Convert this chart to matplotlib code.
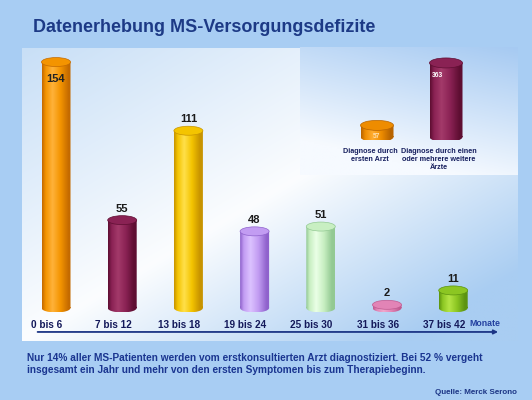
import numpy as np
import matplotlib
matplotlib.use("Agg")
import matplotlib.pyplot as plt
from matplotlib.patches import Ellipse, PathPatch
from matplotlib.path import Path
from matplotlib.colors import LinearSegmentedColormap, to_rgb

plt.rcParams['font.family'] = ['Liberation Sans', 'DejaVu Sans']

# ---------------- data ----------------
title = "Datenerhebung MS-Versorgungsdefizite"
categories = ["0 bis 6", "7 bis 12", "13 bis 18", "19 bis 24", "25 bis 30", "31 bis 36", "37 bis 42"]
values = [154, 55, 111, 48, 51, 2, 11]
axis_unit = "Monate"

inset_labels = ["Diagnose durch\nersten Arzt", "Diagnose durch einen\noder mehrere weitere\nÄrzte"]
inset_values = [57, 363]

footnote = ("Nur 14% aller MS-Patienten werden vom erstkonsultierten Arzt diagnostiziert. Bei 52 % vergeht\n"
            "insgesamt ein Jahr und mehr von den ersten Symptomen bis zum Therapiebeginn.")
source = "Quelle: Merck Serono"

# ---------------- styles ----------------
bar_colors = [  # (dark edge, light, base)
    ("#c46a00", "#ffb23a", "#f49400"),
    ("#5e0e32", "#a33a6a", "#8a2254"),
    ("#c89400", "#ffe04a", "#f4c400"),
    ("#8f62cc", "#dcc2ff", "#c29cf2"),
    ("#93c993", "#eaffe6", "#c8efc2"),
    ("#c05a90", "#f0a8cc", "#e284b6"),
    ("#5c9410", "#b4e444", "#8cc622"),
]
inset_colors = [
    ("#b86400", "#ffac30", "#ee8c00"),
    ("#5e0e32", "#a33a6a", "#8a2254"),
]
DARKBLUE = "#1c3585"
NAVY = "#14195a"
W_PX, H_PX = 532, 400

fig = plt.figure(figsize=(W_PX / 100, H_PX / 100), dpi=100)
fig.patch.set_facecolor("#a8cdf3")

# background decoration axes (pixel coordinates)
bg = fig.add_axes([0, 0, 1, 1])
bg.set_xlim(0, W_PX)
bg.set_ylim(H_PX, 0)
bg.axis("off")
bg.set_zorder(0)

def mix(c1, c2, t):
    c1 = np.array(to_rgb(c1)); c2 = np.array(to_rgb(c2))
    return c1[None, None, :] * (1 - t[..., None]) + c2[None, None, :] * t[..., None]

# main panel gradient
ny, nx = 200, 300
u, v = np.meshgrid(np.linspace(0, 1, nx), np.linspace(0, 1, ny))
d = u + v - 1.0
t = np.where(d < 0, np.clip(-d * 0.6, 0, 1), np.clip(d * 1.25, 0, 1))
t = np.clip(t + 0.04, 0, 1)
img = mix("#ffffff", "#a9cdf2", t)
bg.imshow(img, extent=(22, 518, 341, 48), aspect="auto", zorder=1, interpolation="bilinear")

# inset panel gradient
ny2, nx2 = 100, 150
u2, v2 = np.meshgrid(np.linspace(0, 1, nx2), np.linspace(0, 1, ny2))
t2 = np.clip((1 - v2) * 0.9 + u2 * 0.35 - 0.25, 0, 1)
img2 = mix("#f6faff", "#a6caf2", t2)
bg.imshow(img2, extent=(300, 518, 175, 47), aspect="auto", zorder=2, interpolation="bilinear")
bg.set_xlim(0, W_PX)
bg.set_ylim(H_PX, 0)

# title
bg.text(33, 28, title, fontsize=13, fontweight="bold", color="#1d3a86", va="center", ha="left", zorder=5)
# footnote
bg.text(27, 364, footnote, fontsize=7.3, fontweight="bold", color="#1a3590", va="center", ha="left",
        linespacing=1.2, zorder=5)
bg.text(517, 392, source, fontsize=5.8, fontweight="bold", color=DARKBLUE, va="center", ha="right", zorder=5)


def cylinder(ax, x, h, w, eh, cols, z=3):
    dark, light, base = cols
    cmap = LinearSegmentedColormap.from_list(
        "c", [(0, dark), (0.12, base), (0.35, light), (0.62, base), (0.9, dark), (1, dark)])
    rect = Path([(x - w / 2, 0), (x + w / 2, 0), (x + w / 2, h), (x - w / 2, h), (x - w / 2, 0)],
                [Path.MOVETO, Path.LINETO, Path.LINETO, Path.LINETO, Path.CLOSEPOLY])
    ell = Ellipse((x, 0), w, eh)
    ep = ell.get_patch_transform().transform_path(ell.get_path())
    comp = Path.make_compound_path(rect, ep)
    clip = PathPatch(comp, transform=ax.transData, facecolor="none", edgecolor="none")
    ax.add_patch(clip)
    grad = np.linspace(0, 1, 64)[None, :]
    im = ax.imshow(grad, extent=(x - w / 2, x + w / 2, -eh / 2, h), aspect="auto", cmap=cmap,
                   zorder=z, interpolation="bilinear")
    im.set_clip_path(clip)
    top = Ellipse((x, h), w, eh, facecolor=base, edgecolor=dark, lw=0.5, zorder=z + 1)
    ax.add_patch(top)


# ---------------- main chart ----------------
px_unit = 1.597          # pixels per value unit
base_px = 308            # baseline pixel (from top)
idx_px = 66.2            # pixels per category
x0_px = 56
ax_left_px = x0_px - 0.5 * idx_px
ax_right_px = x0_px + 7.0 * idx_px
ax_top_px, ax_bot_px = 36, 340
ax = fig.add_axes([ax_left_px / W_PX, 1 - ax_bot_px / H_PX,
                   (ax_right_px - ax_left_px) / W_PX, (ax_bot_px - ax_top_px) / H_PX])
ax.set_zorder(3)
ax.patch.set_alpha(0)
ax.axis("off")

bw = 29 / idx_px
eh = 9 / px_unit
xs = np.arange(len(values))
for i, val in enumerate(values):
    cylinder(ax, xs[i], val, bw, eh, bar_colors[i])
    if i == 0:
        ax.annotate(str(val), (xs[i], val), xytext=(0, -12), textcoords="offset points",
                    ha="center", va="center", fontsize=8, fontweight="bold", color="#222222", zorder=10)
    else:
        ax.annotate(str(val), (xs[i], val + eh / 2), xytext=(0, 1.5), textcoords="offset points",
                    ha="center", va="bottom", fontsize=8, fontweight="bold", color="#1a1a1a", zorder=10)
    ax.annotate(categories[i], (xs[i] - 0.14, 0), xytext=(0, -12.2), textcoords="offset points",
                ha="center", va="center", fontsize=7.2, fontweight="bold", color=NAVY, zorder=10)

ax.annotate(axis_unit, (6.48, 0), xytext=(0, -11.5), textcoords="offset points",
            ha="center", va="center", fontsize=6.3, fontweight="bold", color="#2340a0", zorder=10)
ax.annotate("", xy=(6.72, -15), xytext=(-0.32, -15),
            arrowprops=dict(arrowstyle="-|>", color=DARKBLUE, lw=1.3, mutation_scale=6), zorder=10)

ax.set_xlim(-0.5, 7.0)
ax.set_ylim(-(ax_bot_px - base_px) / px_unit, (base_px - ax_top_px) / px_unit)

# ---------------- inset chart ----------------
ipx_unit = 0.204
ibase_px = 137
iidx_px = 69
ix0_px = 377
il_px = ix0_px - 0.6 * iidx_px
ir_px = ix0_px + 1.6 * iidx_px
it_px, ib_px = 50, 140
axi = fig.add_axes([il_px / W_PX, 1 - ib_px / H_PX, (ir_px - il_px) / W_PX, (ib_px - it_px) / H_PX])
axi.set_zorder(4)
axi.patch.set_alpha(0)
axi.axis("off")
ibw = 33 / iidx_px
ieh = 10 / ipx_unit
for i, val in enumerate(inset_values):
    cylinder(axi, i, val, ibw, ieh, inset_colors[i])
    if i == 1:
        axi.annotate(str(val), (i - 0.12, val), xytext=(0, -9), textcoords="offset points",
                     ha="center", va="center", fontsize=4.8, fontweight="bold", color="white", zorder=10)
    else:
        axi.annotate(str(val), (i, 0), xytext=(0, 0), textcoords="offset points",
                     ha="center", va="center", fontsize=4.8, fontweight="bold", color="#ffe0b0", zorder=10)
    axi.annotate(inset_labels[i], (i - 0.1, 0), xytext=(0, -8), textcoords="offset points",
                 ha="center", va="top", fontsize=5.2, fontweight="bold", color="#161f5e",
                 linespacing=1.15, zorder=10, annotation_clip=False)
axi.set_xlim(-0.6, 1.6)
axi.set_ylim(-(ib_px - ibase_px) / ipx_unit, (ibase_px - it_px) / ipx_unit)

fig.savefig("out.png", dpi=100, facecolor=fig.get_facecolor())
